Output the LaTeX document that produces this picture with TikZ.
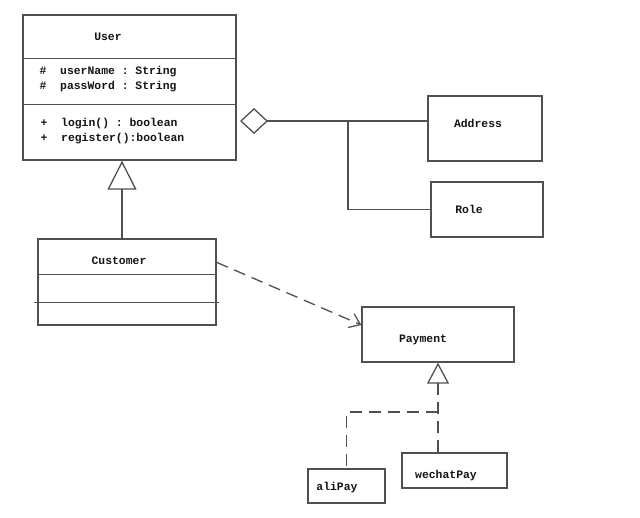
\documentclass[tikz,border=0pt]{standalone}
\usepackage{fontspec}
\setmonofont{Liberation Mono}
\usetikzlibrary{arrows.meta,positioning,shapes.geometric,calc}
\definecolor{umlgray}{RGB}{80,80,80}
\definecolor{umlink}{RGB}{20,20,20}

\tikzset{
  umlbox/.style={draw=umlgray, line width=1.3pt, rectangle, inner sep=0pt},
  umltext/.style={font=\ttfamily\bfseries\fontsize{11.4}{15}\selectfont, text=umlink, inner sep=0pt},
  umlline/.style={draw=umlgray, line width=1.3pt},
  umldash/.style={umlline, dash pattern=on 12pt off 7pt},
}

\begin{document}
\begin{tikzpicture}[x=1pt, y=-1pt]
  \useasboundingbox (0,0) rectangle (640,517);

  % User class
  \node[umlbox, minimum width=213pt, minimum height=145pt] (user) at (129.5,87.5) {};
  \draw[umlline] ([yshift=-44pt]user.north west) -- ([yshift=-44pt]user.north east);
  \draw[umlline] ([yshift=-90pt]user.north west) -- ([yshift=-90pt]user.north east);
  \node[umltext] (usertitle) at (108,37) {User};
  \node[umltext, anchor=west, align=left] (userattr) at (39.5,79.5)
    {\#\ \ userName : String\\\#\ \ passWord : String};
  \node[umltext, anchor=west, align=left] (usermeth) at (40.5,131)
    {+\ \ login() : boolean\\+\ \ register():boolean};

  % Customer class
  \node[umlbox, minimum width=178pt, minimum height=86pt] (customer) at (127,282) {};
  \draw[umlline] ([yshift=-36pt]customer.north west) -- ([yshift=-36pt]customer.north east);
  \draw[umlline] ([xshift=-3pt,yshift=-64pt]customer.north west) -- ([xshift=2pt,yshift=-64pt]customer.north east);
  \node[umltext] (customertitle) at (119,261) {Customer};

  % Address and Role
  \node[umlbox, minimum width=114pt, minimum height=65pt] (address) at (485,128.5) {};
  \node[umltext] (addresstitle) at (478,123) {Address};
  \node[umlbox, minimum width=112pt, minimum height=55pt] (role) at (487,209.5) {};
  \node[umltext] (roletitle) at (469,209) {Role};

  % Payment and subclasses
  \node[umlbox, minimum width=152pt, minimum height=55pt] (payment) at (438,334.5) {};
  \node[umltext] (paymenttitle) at (423,340) {Payment};
  \node[umlbox, minimum width=77pt, minimum height=34pt] (alipay) at (346.5,486) {};
  \node[umltext] (alipaytitle) at (337,488) {aliPay};
  \node[umlbox, minimum width=105pt, minimum height=35pt] (wechat) at (454.5,470.5) {};
  \node[umltext] (wechattitle) at (446,476) {wechatPay};

  % inheritance Customer -> User
  \coordinate (gentip) at ([xshift=-7.5pt]user.south);
  \draw[umlline, -{Triangle[open, length=29pt, width=29pt, line width=1.3pt]}]
    (gentip |- customer.north) -- (gentip);

  % aggregation
  \coordinate (agg) at (240,121);
  \coordinate (aggjoin) at (348,121);
  \draw[umlline, {Diamond[open, length=28pt, width=26pt, line width=1.3pt]}-]
    (agg) -- (agg -| address.west);
  \draw[umlline] (aggjoin) |- (role.west);

  % dependency Customer -> Payment
  \draw[umldash, -{Straight Barb[length=10pt, width=15pt, line width=1.3pt]}]
    ([yshift=-24pt]customer.north east) -- ([yshift=9.5pt]payment.west);

  % realization aliPay/wechatPay -> Payment
  \coordinate (payjoin) at (payment.south |- 0,412);
  \draw[umldash, -{Triangle[open, length=21pt, width=22pt, line width=1.3pt]}]
    (payment.south |- wechat.north) -- (payment.south);
  \draw[umldash] (payjoin) -| (alipay.north);
\end{tikzpicture}
\end{document}
